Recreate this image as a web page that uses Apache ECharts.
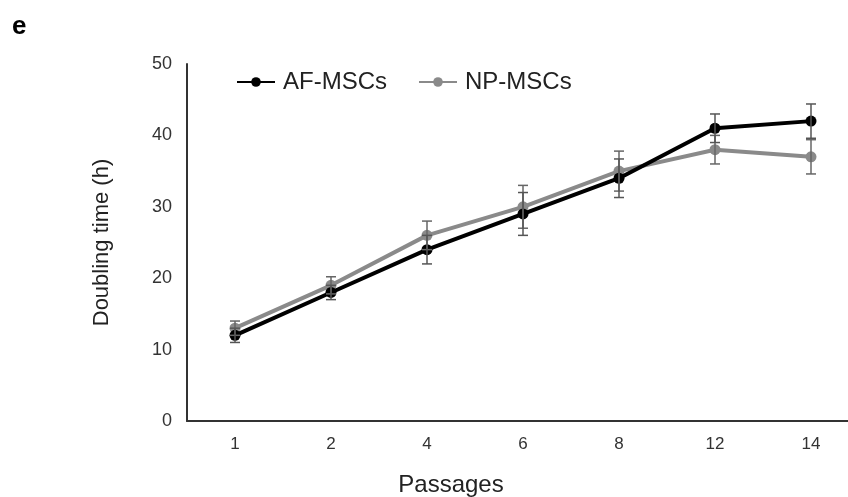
<!DOCTYPE html>
<html>
<head>
<meta charset="utf-8">
<script src="https://cdn.jsdelivr.net/npm/echarts@6/dist/echarts.min.js"></script>
<style>
  html, body { margin: 0; padding: 0; background: #fff; overflow: hidden; }
  #chart { width: 848px; height: 497px; }
</style>
</head>
<body>
<div id="chart"></div>
<script>
// 传代次数
const passages = ["1", "2", "4", "6", "8", "12", "14"];
// 倍增时间 (h)
const afMean = [12, 18, 24, 29, 34, 41, 42];
const afErr = [1, 1, 2, 3, 2.7, 2, 2.4];
const npMean = [13, 19, 26, 30, 35, 38, 37];
const npErr = [1, 1.2, 2, 3, 2.8, 2, 2.4];
const yTicks = [0, 10, 20, 30, 40, 50];

const FONT = "Liberation Sans, Arial, sans-serif";

// 误差线数据 [x, low, high]
const toErr = (mean, err) => mean.map((m, i) => [i, m - err[i], m + err[i]]);

const errRender = (color) => (params, api) => {
  const x = api.value(0);
  const lo = api.coord([x, api.value(1)]);
  const hi = api.coord([x, api.value(2)]);
  const w = 5;
  const style = { stroke: color, lineWidth: 1.5 };
  return {
    type: "group",
    children: [
      { type: "line", shape: { x1: hi[0], y1: hi[1], x2: lo[0], y2: lo[1] }, style },
      { type: "line", shape: { x1: hi[0] - w, y1: hi[1], x2: hi[0] + w, y2: hi[1] }, style },
      { type: "line", shape: { x1: lo[0] - w, y1: lo[1], x2: lo[0] + w, y2: lo[1] }, style },
    ],
  };
};

const myChart = echarts.init(document.getElementById("chart"));

const option = {
  animation: false,
  backgroundColor: "#fff",
  title: {
    text: "e",
    left: 7,
    top: 9,
    textStyle: { fontFamily: FONT, fontSize: 26, fontWeight: "bold", color: "#000" },
  },
  legend: {
    left: 231,
    top: 65,
    itemWidth: 38,
    itemHeight: 12,
    itemGap: 31,
    textStyle: { fontFamily: FONT, fontSize: 24, color: "#222", padding: [0, 0, 0, 3] },
    data: ["AF-MSCs", "NP-MSCs"],
  },
  grid: {
    left: 187,
    top: 64,
    width: 672,
    bottom: 76,
    outerBoundsMode: "none",
    containLabel: false,
  },
  xAxis: {
    type: "category",
    data: passages,
    boundaryGap: true,
    name: "Passages",
    nameLocation: "middle",
    nameGap: 52,
    nameTextStyle: { fontFamily: FONT, fontSize: 24, color: "#222", padding: [0, 144, 0, 0] },
    axisLine: { lineStyle: { color: "#333", width: 2 } },
    axisTick: { show: false },
    axisLabel: { fontFamily: FONT, fontSize: 17, color: "#333", margin: 15 },
  },
  yAxis: {
    type: "value",
    min: yTicks[0],
    max: yTicks[yTicks.length - 1],
    interval: 10,
    name: "Doubling time (h)",
    nameLocation: "middle",
    nameGap: 74,
    nameTextStyle: { fontFamily: FONT, fontSize: 22, color: "#222" },
    axisLine: { show: true, lineStyle: { color: "#333", width: 2 } },
    axisTick: { show: false },
    splitLine: { show: false },
    axisLabel: { fontFamily: FONT, fontSize: 18, color: "#333", margin: 15 },
  },
  series: [
    {
      name: "NP-MSCs",
      type: "line",
      data: npMean,
      symbol: "circle",
      symbolSize: 11,
      color: "#8a8a8a",
      lineStyle: { width: 4, color: "#8a8a8a" },
      itemStyle: { color: "#8a8a8a" },
      z: 2,
    },
    {
      name: "AF-MSCs",
      type: "line",
      data: afMean,
      symbol: "circle",
      symbolSize: 11,
      color: "#000",
      lineStyle: { width: 4, color: "#000" },
      itemStyle: { color: "#000" },
      z: 3,
    },
    {
      name: "NP-err",
      type: "custom",
      data: toErr(npMean, npErr),
      renderItem: errRender("#666"),
      encode: { x: 0, y: [1, 2] },
      z: 4,
    },
    {
      name: "AF-err",
      type: "custom",
      data: toErr(afMean, afErr),
      renderItem: errRender("#555"),
      encode: { x: 0, y: [1, 2] },
      z: 4,
    },
  ],
};

myChart.setOption(option);
</script>
</body>
</html>
